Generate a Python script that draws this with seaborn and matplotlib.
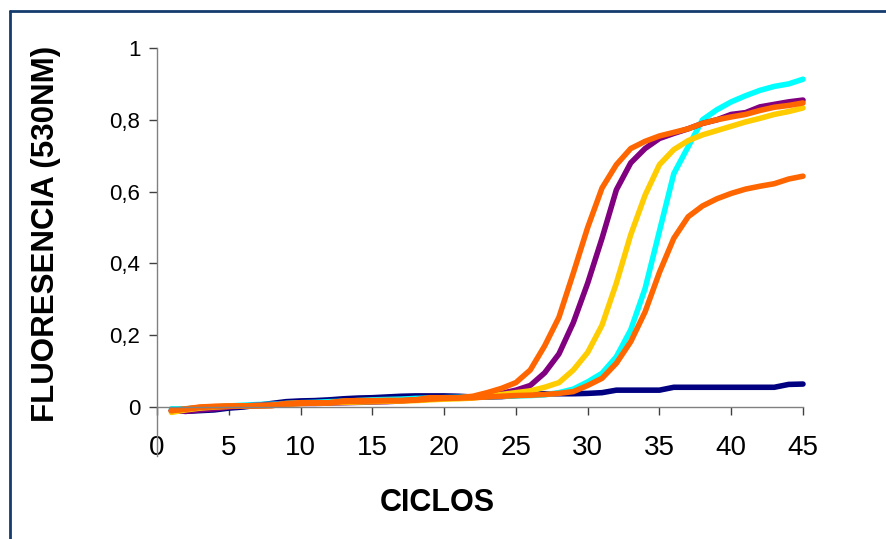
import numpy as np
import pandas as pd
import matplotlib
matplotlib.use("Agg")
import matplotlib.pyplot as plt
from matplotlib.lines import Line2D
import seaborn as sns

# PCR cycles and fluorescence readings (530 nm) per sample
ciclos = list(range(1, 46))

muestra_azul = [-0.010, -0.012, -0.010, -0.008, -0.003, 0.000, 0.005, 0.010, 0.015, 0.017,
                0.018, 0.020, 0.023, 0.025, 0.026, 0.028, 0.030, 0.031, 0.031, 0.031,
                0.030, 0.028, 0.028, 0.029, 0.032, 0.035, 0.037, 0.037, 0.037, 0.038,
                0.040, 0.047, 0.047, 0.047, 0.047, 0.055, 0.055, 0.055, 0.055, 0.055,
                0.055, 0.055, 0.055, 0.063, 0.064]

muestra_cian = [-0.005, -0.005, -0.002, 0.000, 0.003, 0.005, 0.007, 0.008, 0.010, 0.012,
                0.013, 0.015, 0.016, 0.018, 0.020, 0.021, 0.022, 0.024, 0.025, 0.026,
                0.027, 0.028, 0.029, 0.030, 0.031, 0.032, 0.034, 0.040, 0.050, 0.070,
                0.094, 0.140, 0.215, 0.330, 0.490, 0.650, 0.725, 0.800, 0.828, 0.850,
                0.867, 0.882, 0.893, 0.900, 0.913]

muestra_morada = [-0.010, -0.012, -0.008, -0.005, 0.000, 0.003, 0.005, 0.007, 0.008, 0.010,
                  0.010, 0.011, 0.012, 0.013, 0.014, 0.015, 0.017, 0.020, 0.022, 0.024,
                  0.025, 0.027, 0.032, 0.038, 0.047, 0.060, 0.095, 0.148, 0.235, 0.345,
                  0.470, 0.605, 0.680, 0.720, 0.748, 0.762, 0.775, 0.790, 0.800, 0.815,
                  0.820, 0.836, 0.843, 0.850, 0.855]

muestra_amarilla = [-0.015, -0.008, -0.003, 0.000, 0.002, 0.003, 0.004, 0.005, 0.008, 0.010,
                    0.011, 0.012, 0.013, 0.014, 0.015, 0.016, 0.017, 0.018, 0.020, 0.022,
                    0.023, 0.025, 0.030, 0.035, 0.040, 0.045, 0.055, 0.068, 0.103, 0.152,
                    0.228, 0.345, 0.480, 0.590, 0.675, 0.717, 0.742, 0.758, 0.770, 0.782,
                    0.794, 0.804, 0.815, 0.823, 0.833]

muestra_naranja_tardia = [-0.010, -0.006, -0.001, 0.001, 0.002, 0.003, 0.003, 0.004, 0.008, 0.010,
                          0.011, 0.012, 0.015, 0.016, 0.017, 0.018, 0.018, 0.019, 0.022, 0.024,
                          0.025, 0.026, 0.028, 0.030, 0.032, 0.033, 0.035, 0.038, 0.043, 0.060,
                          0.080, 0.122, 0.182, 0.265, 0.375, 0.470, 0.530, 0.560, 0.580, 0.595,
                          0.607, 0.615, 0.622, 0.635, 0.643]

muestra_naranja = [-0.010, -0.005, 0.000, 0.002, 0.003, 0.003, 0.003, 0.004, 0.010, 0.012,
                   0.012, 0.012, 0.017, 0.018, 0.018, 0.018, 0.018, 0.020, 0.026, 0.026,
                   0.026, 0.030, 0.040, 0.052, 0.068, 0.103, 0.170, 0.250, 0.373, 0.500,
                   0.610, 0.675, 0.720, 0.740, 0.755, 0.765, 0.775, 0.790, 0.800, 0.808,
                   0.815, 0.826, 0.835, 0.840, 0.847]

series = {
    "azul": muestra_azul,
    "cian": muestra_cian,
    "morada": muestra_morada,
    "amarilla": muestra_amarilla,
    "naranja_tardia": muestra_naranja_tardia,
    "naranja": muestra_naranja,
}
colores = {
    "azul": "#000080",
    "cian": "#00FFFF",
    "morada": "#800080",
    "amarilla": "#FFCC00",
    "naranja_tardia": "#FF6600",
    "naranja": "#FF6600",
}

df = pd.concat(
    [pd.DataFrame({"ciclo": ciclos, "fluorescencia": v, "muestra": k}) for k, v in series.items()],
    ignore_index=True,
)

sns.set_style("white")
plt.rcParams["font.family"] = ["Liberation Sans", "DejaVu Sans"]
plt.rcParams["text.color"] = "black"
plt.rcParams["axes.labelcolor"] = "black"
plt.rcParams["xtick.color"] = "black"
plt.rcParams["ytick.color"] = "black"

W, H = 887, 539
fig = plt.figure(figsize=(W / 100, H / 100), dpi=100)

# plot area in pixel terms
x0, x1 = 157, 803
y_top, y_bot = 48, 455.5
ax = fig.add_axes([x0 / W, (H - y_bot) / H, (x1 - x0) / W, (y_bot - y_top) / H])

sns.lineplot(data=df, x="ciclo", y="fluorescencia", hue="muestra",
             hue_order=list(series.keys()), palette=colores, legend=False,
             linewidth=4.0, ax=ax, clip_on=False, solid_capstyle="round",
             solid_joinstyle="round")

ax.set_xlim(0, 45)
ax.set_ylim(-0.135, 1)

ax.spines["top"].set_visible(False)
ax.spines["right"].set_visible(False)
ax.spines["bottom"].set_position(("data", 0))
for s in ("left", "bottom"):
    ax.spines[s].set_color("#808080")
    ax.spines[s].set_linewidth(1.0)

ax.set_xticks(range(0, 46, 5))
ax.set_xticklabels([str(v) for v in range(0, 46, 5)], fontsize=20, color="black")
yt = [0, 0.2, 0.4, 0.6, 0.8, 1]
ax.set_yticks(yt)
ax.set_yticklabels(["0", "0,2", "0,4", "0,6", "0,8", "1"], fontsize=16, color="black")

ax.tick_params(axis="x", direction="out", length=6, width=1, color="#404040",
               pad=14, bottom=True)
ax.tick_params(axis="y", direction="out", length=6, width=1, color="#404040",
               pad=6, left=True)

ax.set_xlabel("CICLOS", fontsize=22, fontweight="bold", color="black")
ax.set_ylabel("FLUORESENCIA (530NM)", fontsize=22.5, fontweight="bold", color="black")
ax.xaxis.set_label_coords((437 - x0) / (x1 - x0), (y_bot - 503) / (y_bot - y_top))
ax.yaxis.set_label_coords((46 - x0) / (x1 - x0), (y_bot - 234) / (y_bot - y_top))
ax.xaxis.label.set_va("center")
ax.yaxis.label.set_va("center")

# outer chart frame (left and top edges)
frame_color = "#143C6E"
fx = 10 / W
fy = 1 - 11 / H
fig.add_artist(Line2D([fx, fx], [0, fy], transform=fig.transFigure, color=frame_color, lw=2.0))
fig.add_artist(Line2D([fx, 1], [fy, fy], transform=fig.transFigure, color=frame_color, lw=2.0))

fig.savefig("out.png", dpi=100, facecolor="white")
